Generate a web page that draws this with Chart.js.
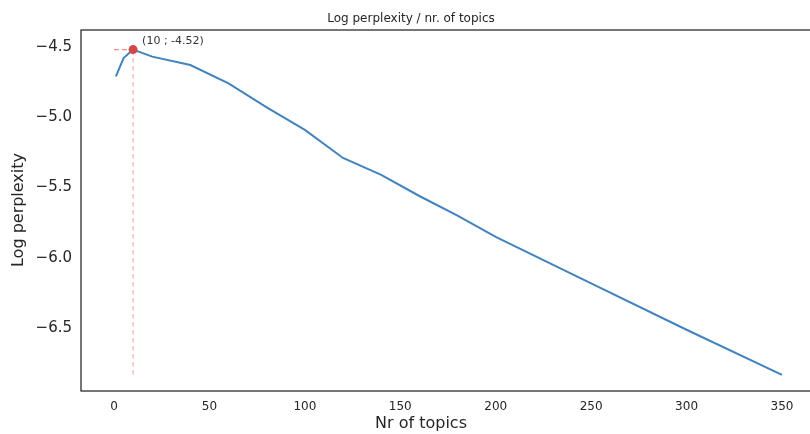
<!DOCTYPE html>
<html>
<head>
<meta charset="utf-8">
<script src="https://cdn.jsdelivr.net/npm/chart.js@4/dist/chart.umd.min.js"></script>
<style>
  html, body { margin: 0; padding: 0; background: #fff; overflow: hidden; }
  #wrap { width: 810px; height: 434px; overflow: hidden; position: relative; }
  canvas { display: block; }
</style>
</head>
<body>
<div id="wrap"><canvas id="c" width="840" height="434"></canvas></div>
<script>
// Number of topics and the log perplexity measured for each model
const topics = [1, 5, 10, 20, 40, 60, 80, 100, 120, 140, 160, 180, 200, 250, 300, 350];
const logPerplexity = [-4.71, -4.58, -4.52, -4.57, -4.63, -4.76, -4.93, -5.09, -5.29, -5.41, -5.56, -5.70, -5.85, -6.18, -6.51, -6.83];

// Axis ticks
const xTickValues = [0, 50, 100, 150, 200, 250, 300, 350];
const yTickValues = [-4.5, -5.0, -5.5, -6.0, -6.5];

// Best model (highest log perplexity)
const bestIdx = logPerplexity.indexOf(Math.max(...logPerplexity));
const bestTopics = topics[bestIdx];
const bestValue = logPerplexity[bestIdx];
const lowestValue = Math.min(...logPerplexity);

const FONT = "'DejaVu Sans', 'Liberation Sans', sans-serif";
const TEXT = '#262626';

// Frame, titles and the annotation of the best point
const decorations = {
  id: 'decorations',
  afterDatasetsDraw(chart) {
    const { ctx, chartArea: a, scales } = chart;
    ctx.save();
    ctx.strokeStyle = '#262626';
    ctx.lineWidth = 1.25;
    ctx.strokeRect(a.left, a.top, a.right - a.left, a.bottom - a.top);

    ctx.fillStyle = '#333';
    ctx.font = '11px ' + FONT;
    ctx.textAlign = 'left';
    ctx.textBaseline = 'alphabetic';
    const px = scales.x.getPixelForValue(bestTopics);
    const py = scales.y.getPixelForValue(bestValue);
    ctx.fillText('(' + bestTopics + ' ; ' + bestValue.toFixed(2) + ')', px + 9, py - 6);

    ctx.fillStyle = TEXT;
    ctx.textAlign = 'center';
    ctx.font = '12px ' + FONT;
    ctx.fillText('Log perplexity / nr. of topics', 411, 22);

    ctx.font = '16px ' + FONT;
    ctx.textBaseline = 'middle';
    ctx.fillText('Nr of topics', 421, 424);

    ctx.translate(19, 210);
    ctx.rotate(-Math.PI / 2);
    ctx.fillText('Log perplexity', 0, 0);
    ctx.restore();
  }
};

new Chart(document.getElementById('c'), {
  type: 'line',
  data: {
    datasets: [
      {
        data: topics.map((t, i) => ({ x: t, y: logPerplexity[i] })),
        borderColor: '#4283be',
        borderWidth: 2,
        pointRadius: 0,
        tension: 0,
        order: 2
      },
      {
        data: [{ x: 0, y: bestValue }, { x: bestTopics, y: bestValue }],
        borderColor: '#ff8a8a',
        borderWidth: 1.2,
        borderDash: [5, 3],
        pointRadius: 0,
        order: 3
      },
      {
        data: [{ x: bestTopics, y: lowestValue }, { x: bestTopics, y: bestValue }],
        borderColor: '#ff9c9c',
        borderWidth: 1,
        borderDash: [5, 3],
        pointRadius: 0,
        order: 3
      },
      {
        data: [{ x: bestTopics, y: bestValue }],
        showLine: false,
        pointRadius: 4.5,
        pointBackgroundColor: '#d24848',
        pointBorderColor: '#d24848',
        pointBorderWidth: 0,
        order: 1
      }
    ]
  },
  options: {
    responsive: false,
    animation: false,
    devicePixelRatio: 1,
    layout: { padding: { top: 30, right: 25, left: 0, bottom: 0 } },
    plugins: { legend: { display: false }, tooltip: { enabled: false }, title: { display: false } },
    scales: {
      x: {
        type: 'linear',
        min: -17.3,
        max: 367.3,
        afterBuildTicks: s => { s.ticks = xTickValues.map(v => ({ value: v })); },
        afterFit: s => { s.height = 43; },
        grid: { display: false, drawTicks: false },
        border: { display: false },
        ticks: { color: TEXT, font: { family: FONT, size: 12 }, padding: 9, maxRotation: 0 }
      },
      y: {
        type: 'linear',
        min: -6.945,
        max: -4.381,
        afterBuildTicks: s => { s.ticks = yTickValues.map(v => ({ value: v })); },
        afterFit: s => { s.width = 81; },
        grid: { display: false, drawTicks: false },
        border: { display: false },
        ticks: {
          color: TEXT,
          font: { family: FONT, size: 15 },
          padding: 9,
          callback: v => (v < 0 ? '\u2212' : '') + Math.abs(v).toFixed(1)
        }
      }
    }
  },
  plugins: [decorations]
});
</script>
</body>
</html>
